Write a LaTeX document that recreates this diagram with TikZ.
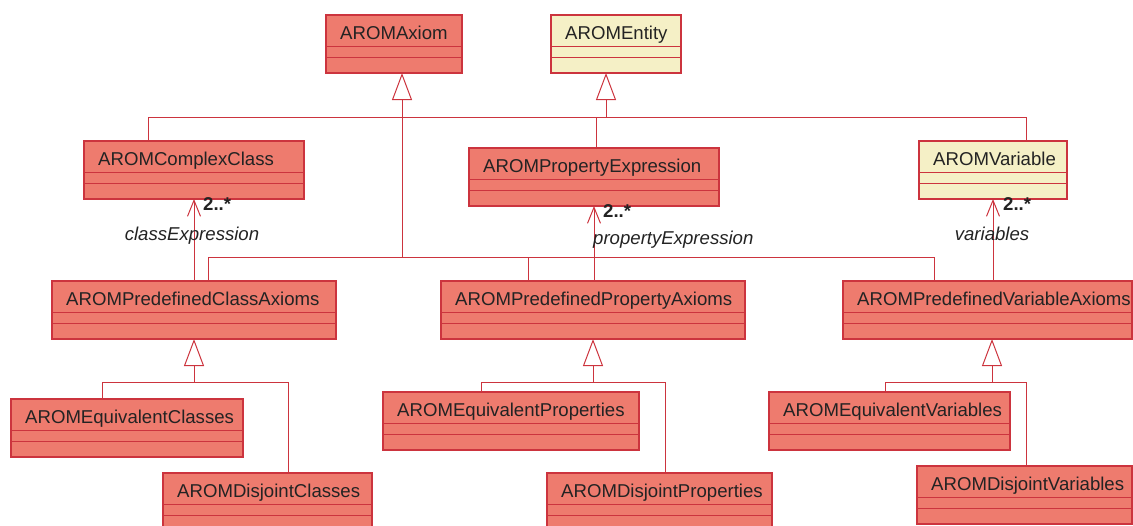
\documentclass[tikz,border=0pt]{standalone}
\usepackage{fontspec}
\setmainfont{Liberation Sans}
\usetikzlibrary{arrows.meta,calc}
\definecolor{redfill}{RGB}{238,123,110}
\definecolor{yelfill}{RGB}{245,240,198}
\definecolor{edgecol}{RGB}{204,52,62}
\definecolor{txt}{RGB}{35,35,35}
\tikzset{
 classbox/.style={draw=edgecol, line width=1.2pt, inner sep=0pt, outer sep=0pt, anchor=north west, minimum height=58pt},
 divider/.style={draw=edgecol, line width=1pt},
 classname/.style={anchor=base west, font=\fontsize{18.6}{20}\selectfont, text=txt, inner sep=0pt},
 conn/.style={draw=edgecol, line width=1pt},
 gen/.style={conn, -{Triangle[open, length=27pt, width=20pt]}},
 assoc/.style={conn, -{Straight Barb[length=16pt, width=13pt]}},
 mult/.style={anchor=base west, font=\bfseries\fontsize{18.6}{20}\selectfont, text=txt, inner sep=0pt},
 role/.style={anchor=base, font=\itshape\fontsize{18.6}{20}\selectfont, text=txt, inner sep=0pt},
}
\newcommand\umlclass[6]{%
 \node[classbox, fill=#5, minimum width=#4-#2] (#1) at (#2,#3) {};
 \draw[divider] ([yshift=-31pt]#1.north west) -- ([yshift=-31pt]#1.north east);
 \draw[divider] ([yshift=-42pt]#1.north west) -- ([yshift=-42pt]#1.north east);
 \node[classname] (#1-name) at ([xshift=14pt,yshift=-24.5pt]#1.north west) {#6};
}
\begin{document}
\begin{tikzpicture}[x=1pt,y=-1pt]
\useasboundingbox (0,0) rectangle (1133,525);
\clip (0,0) rectangle (1133,525);

% classes
\umlclass{ax}{326}{15}{462}{redfill}{AROMAxiom}
\umlclass{en}{551}{15}{681}{yelfill}{AROMEntity}
\umlclass{cc}{84}{141}{304}{redfill}{AROMComplexClass}
\umlclass{pe}{469}{148}{719}{redfill}{AROMPropertyExpression}
\umlclass{va}{919}{141}{1067}{yelfill}{AROMVariable}
\umlclass{pca}{52}{281}{336}{redfill}{AROMPredefinedClassAxioms}
\umlclass{ppa}{441}{281}{745}{redfill}{AROMPredefinedPropertyAxioms}
\umlclass{pva}{843}{281}{1132}{redfill}{AROMPredefinedVariableAxioms}
\umlclass{ec}{11}{399}{243}{redfill}{AROMEquivalentClasses}
\umlclass{dc}{163}{473}{372}{redfill}{AROMDisjointClasses}
\umlclass{ep}{383}{392}{639}{redfill}{AROMEquivalentProperties}
\umlclass{dp}{547}{473}{772}{redfill}{AROMDisjointProperties}
\umlclass{ev}{769}{392}{1010}{redfill}{AROMEquivalentVariables}
\umlclass{dv}{917}{466}{1132}{redfill}{AROMDisjointVariables}

% entity generalization bus
\coordinate (busEl) at (148,117);
\coordinate (busEr) at (1026,117);
\coordinate (busEp) at (596,117);
\coordinate (busE) at (606,117);
\draw[conn] (cc.north -| busEl) -- (busEl) -- (busEr) -- (va.north -| busEr);
\draw[conn] (busEp) -- (pe.north -| busEp);
\draw[gen] (busE) -- (en.south -| busE);

% axiom generalization bus
\coordinate (busAl) at (208,257);
\coordinate (busAr) at (934,257);
\coordinate (busAp) at (528,257);
\coordinate (busA) at (402,257);
\draw[conn] (pca.north -| busAl) -- (busAl) -- (busAr) -- (pva.north -| busAr);
\draw[conn] (busAp) -- (ppa.north -| busAp);
\draw[gen] (busA) -- (ax.south -| busA);

% associations
\draw[assoc] (pca.north -| cc.south) -- (cc.south);
\draw[assoc] (ppa.north -| pe.south) -- (pe.south);
\draw[assoc] (pva.north -| va.south) -- (va.south);
\node[mult] (m1) at ($(cc.south)+(9,11)$) {2..*};
\node[mult] (m2) at ($(pe.south)+(9,11)$) {2..*};
\node[mult] (m3) at ($(va.south)+(10,11)$) {2..*};
\node[role] (r1) at ($(cc.south)+(-2,41)$) {classExpression};
\node[role, anchor=base west] (r2) at ($(pe.south)+(-1,38)$) {propertyExpression};
\node[role] (r3) at ($(va.south)+(-1,41)$) {variables};

% lower generalizations
\coordinate (g1) at (194,382);
\coordinate (g1l) at (102,382);
\coordinate (g1r) at (288,382);
\draw[conn] (ec.north -| g1l) -- (g1l) -- (g1r) -- (dc.north -| g1r);
\draw[gen] (g1) -- (pca.south -| g1);

\coordinate (g2) at (593,382);
\coordinate (g2l) at (481,382);
\coordinate (g2r) at (665,382);
\draw[conn] (ep.north -| g2l) -- (g2l) -- (g2r) -- (dp.north -| g2r);
\draw[gen] (g2) -- (ppa.south -| g2);

\coordinate (g3) at (992,382);
\coordinate (g3l) at (885,382);
\coordinate (g3r) at (1026,382);
\draw[conn] (ev.north -| g3l) -- (g3l) -- (g3r) -- (dv.north -| g3r);
\draw[gen] (g3) -- (pva.south -| g3);
\end{tikzpicture}
\end{document}
